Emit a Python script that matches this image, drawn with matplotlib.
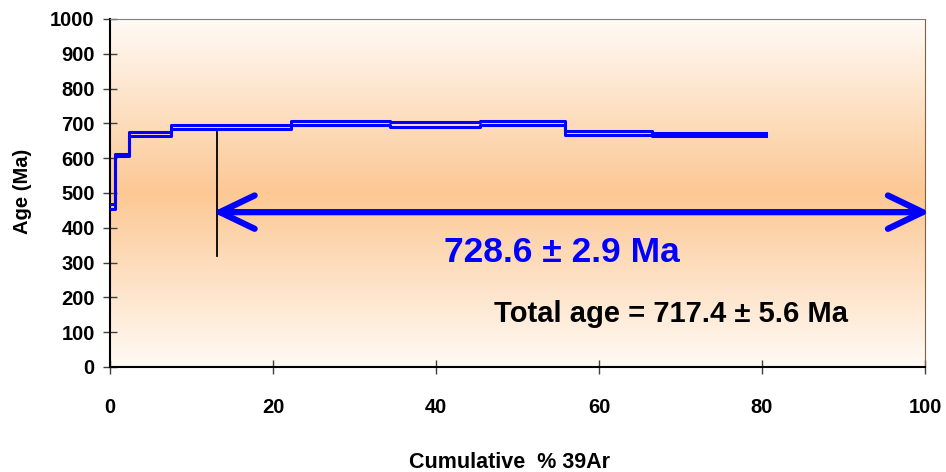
import numpy as np
import matplotlib.pyplot as plt
from matplotlib.patches import FancyArrowPatch
from matplotlib.colors import LinearSegmentedColormap

plt.rcParams['font.family'] = ['Liberation Sans', 'DejaVu Sans']
plt.rcParams['font.weight'] = 'bold'

# step boundaries (cumulative % 39Ar) and ages of each step (Ma)
cum_ar = [0, 0.6, 2.3, 7.45, 22.2, 34.4, 45.4, 55.8, 66.5, 80.5]
age_upper = [467, 612, 676, 696, 707, 704, 708, 678, 671]
age_lower = [455, 605, 665, 684, 694, 689, 695, 666, 665]

plateau_start = 13.1
plateau_age_marker = [320, 675]
arrow_age = 445
plateau_text = "728.6 ± 2.9 Ma"
total_text = "Total age = 717.4 ± 5.6 Ma"

fig = plt.figure(figsize=(9.46, 4.72), dpi=100)
ax = fig.add_axes([110/946, 1-367/472, 815/946, 348/472])

# orange gradient background, white at top and bottom
cmap = LinearSegmentedColormap.from_list('bg', ['#fffaf5', '#fcc894', '#fffaf5'])
grad = np.linspace(0, 1, 256).reshape(-1, 1)
ax.imshow(grad, extent=[0, 100, 0, 1000], aspect='auto', cmap=cmap, zorder=0, origin='lower')

ax.step(cum_ar, age_upper + [age_upper[-1]], where='post', color='#0000ff', lw=2.2, zorder=3)
ax.step(cum_ar, age_lower + [age_lower[-1]], where='post', color='#0000ff', lw=2.2, zorder=3)

ax.plot([plateau_start, plateau_start], plateau_age_marker, color='black', lw=1.3, zorder=4)

# head tips get pulled in by the line width, so push the ends out a bit
arrow = FancyArrowPatch((plateau_start - 0.5, arrow_age), (100.6, arrow_age),
                        arrowstyle='<->,head_length=1.25,head_width=0.6',
                        mutation_scale=20, color='#0000ff', lw=4.5,
                        shrinkA=0, shrinkB=0,
                        capstyle='round', joinstyle='round', clip_on=False, zorder=5)
ax.add_patch(arrow)

ax.text(55.5, 330, plateau_text, color='#0000ff', fontsize=25.5, fontweight='bold',
        ha='center', va='center')
ax.text(68.8, 153, total_text, color='black', fontsize=21, fontweight='bold',
        ha='center', va='center')

ax.set_xlim(0, 100)
ax.set_ylim(0, 1000)
ax.set_xticks(range(0, 101, 20))
ax.set_yticks(range(0, 1001, 100))
ax.tick_params(axis='both', direction='inout', length=10, width=1, color='#404040',
               labelsize=14.5)
ax.tick_params(axis='x', pad=17)
ax.tick_params(axis='y', pad=6)
for lab in ax.get_xticklabels() + ax.get_yticklabels():
    lab.set_fontweight('bold')

ax.spines['left'].set_color('black')
ax.spines['bottom'].set_color('black')
ax.spines['left'].set_linewidth(1.5)
ax.spines['bottom'].set_linewidth(1.5)
ax.spines['top'].set_color('#808080')
ax.spines['right'].set_color('#806040')

fig.text(22/946, 1-191/472, "Age (Ma)", rotation=90, ha='center', va='center',
         fontsize=14.5, fontweight='bold')
fig.text(509/946, 1-462/472, "Cumulative  % 39Ar", ha='center', va='center',
         fontsize=15.5, fontweight='bold')

fig.savefig('out.png', dpi=100)
